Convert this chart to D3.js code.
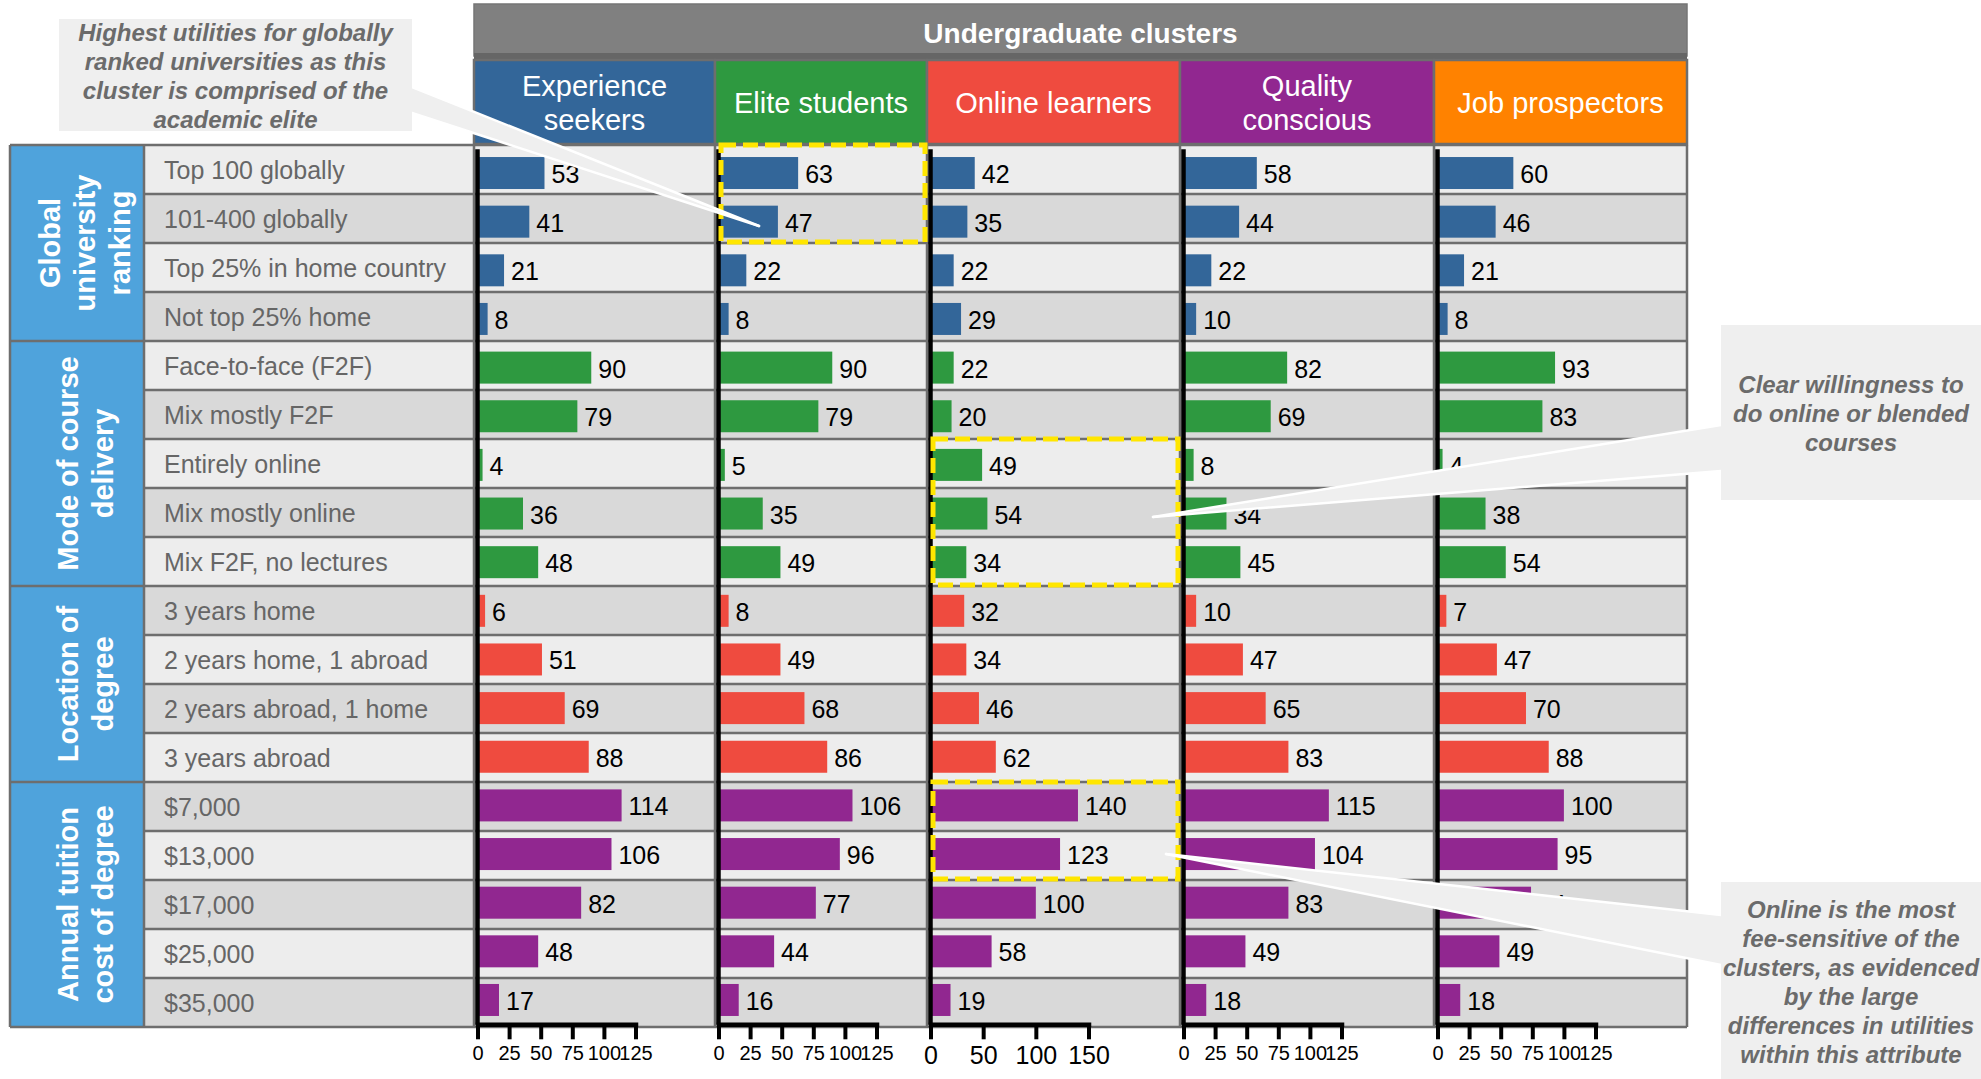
<!DOCTYPE html>
<html>
<head>
<meta charset="utf-8">
<script src="https://cdn.jsdelivr.net/npm/d3@7"></script>
<style>
  html, body { margin: 0; padding: 0; background: #ffffff; }
  svg { display: block; font-family: "Liberation Sans", Arial, sans-serif; }
</style>
</head>
<body>
<svg id="chart" width="1981" height="1079"></svg>
<script>
// ---- Data ---------------------------------------------------------------
const clusters = ["Experience seekers", "Elite students", "Online learners", "Quality conscious", "Job prospectors"];
const clusterHeaderLines = [["Experience", "seekers"], ["Elite students"], ["Online learners"], ["Quality", "conscious"], ["Job prospectors"]];
const clusterColors = ["#336699", "#2e9940", "#ef4b3f", "#912790", "#ff8200"];

const attributes = [
  "Top 100 globally", "101-400 globally", "Top 25% in home country", "Not top 25% home",
  "Face-to-face (F2F)", "Mix mostly F2F", "Entirely online", "Mix mostly online", "Mix F2F, no lectures",
  "3 years home", "2 years home, 1 abroad", "2 years abroad, 1 home", "3 years abroad",
  "$7,000", "$13,000", "$17,000", "$25,000", "$35,000"
];
const groupNames = ["Global university ranking", "Mode of course delivery", "Location of degree", "Annual tuition cost of degree"];
const groupLabelLines = [["Global", "university", "ranking"], ["Mode of course", "delivery"], ["Location of", "degree"], ["Annual tuition", "cost of degree"]];
const groupSizes = [4, 5, 4, 5];
const groupBarColors = ["#336699", "#2e9940", "#ef4b3f", "#912790"];

const experienceSeekers = [53, 41, 21, 8, 90, 79, 4, 36, 48, 6, 51, 69, 88, 114, 106, 82, 48, 17];
const eliteStudents     = [63, 47, 22, 8, 90, 79, 5, 35, 49, 8, 49, 68, 86, 106, 96, 77, 44, 16];
const onlineLearners    = [42, 35, 22, 29, 22, 20, 49, 54, 34, 32, 34, 46, 62, 140, 123, 100, 58, 19];
const qualityConscious  = [58, 44, 22, 10, 82, 69, 8, 34, 45, 10, 47, 65, 83, 115, 104, 83, 49, 18];
const jobProspectors    = [60, 46, 21, 8, 93, 83, 4, 38, 54, 7, 47, 70, 88, 100, 95, 74, 49, 18];
const clusterValues = [experienceSeekers, eliteStudents, onlineLearners, qualityConscious, jobProspectors];

const ticks125 = [0, 25, 50, 75, 100, 125];
const ticks150 = [0, 50, 100, 150];
const clusterTicks = [ticks125, ticks125, ticks150, ticks125, ticks125];

// highlighted cells: cluster index, first and last attribute
const highlights = [
  { cluster: 1, from: "Top 100 globally", to: "101-400 globally" },
  { cluster: 2, from: "Entirely online", to: "Mix F2F, no lectures" },
  { cluster: 2, from: "$7,000", to: "$13,000" }
];

const callouts = [
  { lines: ["Highest utilities for globally", "ranked universities as this", "cluster is comprised of the", "academic elite"],
    box: [59, 19, 353, 112], base: [87, 113], cluster: 1, row: "101-400 globally", tipDx: 44, tipDy: 32 },
  { lines: ["Clear willingness to", "do online or blended", "courses"],
    box: [1721, 325, 260, 175], base: [425, 471], cluster: 2, row: "Mix mostly online", tipDx: 226, tipDy: 29 },
  { lines: ["Online is the most", "fee-sensitive of the", "clusters, as evidenced", "by the large", "differences in utilities", "within this attribute"],
    box: [1721, 882, 260, 197], base: [915, 965], cluster: 2, row: "$13,000", tipDx: 239, tipDy: 23 }
];

// ---- Layout -------------------------------------------------------------
const svg = d3.select("#chart");
const colEdges = [474, 715, 927, 1180, 1434, 1687];
const groupX0 = 10, labelX0 = 144;
const tableTop = 145, tableBottom = 1027;
const plotTop = 148.7, plotBottom = 1024.3;
const axisLen = 158;
const gridColor = "#6e6e6e";

// table rows
const y = d3.scaleBand().domain(attributes).range([tableTop, tableBottom]).padding(0);
const bw = y.bandwidth();
// bar positions inside each cluster's plot area
const yBar = d3.scaleBand().domain(attributes).range([plotTop, plotBottom]).padding(0);
const barH = 32;

const groupOf = [];
groupSizes.forEach((n, g) => { for (let i = 0; i < n; i++) groupOf.push(g); });

const xScales = clusters.map((c, i) => {
  const x0 = colEdges[i] + 3.5;
  return d3.scaleLinear().domain([0, d3.max(clusterTicks[i])]).range([x0, x0 + axisLen]);
});

svg.append("rect").attr("width", 1981).attr("height", 1079).attr("fill", "#ffffff");

// ---- Header -------------------------------------------------------------
svg.append("rect").attr("x", colEdges[0]).attr("y", 4).attr("width", colEdges[5] - colEdges[0]).attr("height", 52)
  .attr("fill", "#808080").attr("stroke", "#767676").attr("stroke-width", 1.5);
svg.append("rect").attr("x", colEdges[0]).attr("y", 53).attr("width", colEdges[5] - colEdges[0]).attr("height", 7)
  .attr("fill", "#666666");
svg.append("text").attr("x", (colEdges[0] + colEdges[5]) / 2).attr("y", 33)
  .attr("text-anchor", "middle").attr("dominant-baseline", "central")
  .attr("fill", "#ffffff").attr("font-weight", "bold").attr("font-size", 28)
  .text("Undergraduate clusters");

const headerG = svg.append("g");
clusters.forEach((c, i) => {
  const x0 = colEdges[i], x1 = colEdges[i + 1];
  headerG.append("rect").attr("x", x0).attr("y", 60).attr("width", x1 - x0).attr("height", 84)
    .attr("fill", clusterColors[i]).attr("stroke", gridColor).attr("stroke-width", 2.5);
  const lines = clusterHeaderLines[i];
  const cy = 103;
  lines.forEach((ln, k) => {
    headerG.append("text").attr("x", (x0 + x1) / 2)
      .attr("y", cy + (k - (lines.length - 1) / 2) * 34)
      .attr("text-anchor", "middle").attr("dominant-baseline", "central")
      .attr("fill", "#ffffff").attr("font-size", 29).text(ln);
  });
});

// ---- Table body ---------------------------------------------------------
const body = svg.append("g");
body.selectAll("rect.row").data(attributes).join("rect")
  .attr("class", "row")
  .attr("x", labelX0).attr("y", d => y(d))
  .attr("width", colEdges[5] - labelX0).attr("height", bw)
  .attr("fill", (d, i) => i % 2 === 0 ? "#ededed" : "#d9d9d9");

// group cells
let start = 0;
groupSizes.forEach((n, g) => {
  const top = y(attributes[start]);
  const bot = y(attributes[start + n - 1]) + bw;
  body.append("rect").attr("x", groupX0).attr("y", top).attr("width", labelX0 - groupX0).attr("height", bot - top)
    .attr("fill", "#4fa3dc");
  const lines = groupLabelLines[g];
  const cy = (top + bot) / 2;
  const t = body.append("text")
    .attr("transform", `translate(85,${cy}) rotate(-90)`)
    .attr("text-anchor", "middle").attr("fill", "#ffffff")
    .attr("font-weight", "bold").attr("font-size", 29);
  lines.forEach((ln, k) => {
    t.append("tspan").attr("x", 0).attr("y", (k - (lines.length - 1) / 2) * 35)
      .attr("dominant-baseline", "central").text(ln);
  });
  start += n;
});

// attribute labels
body.selectAll("text.attr").data(attributes).join("text")
  .attr("class", "attr")
  .attr("x", 164).attr("y", d => y(d) + bw / 2)
  .attr("dominant-baseline", "central")
  .attr("fill", "#666666").attr("font-size", 25)
  .text(d => d);

// grid lines
attributes.concat([null]).forEach((d, i) => {
  const yy = d === null ? tableBottom : y(d);
  const isGroupEdge = i === 0 || i === attributes.length || groupOf[i] !== groupOf[i - 1];
  body.append("line").attr("x1", isGroupEdge ? groupX0 : labelX0).attr("x2", colEdges[5])
    .attr("y1", yy).attr("y2", yy).attr("stroke", gridColor).attr("stroke-width", 2.5);
});
[groupX0, labelX0].concat(colEdges).forEach(xx => {
  body.append("line").attr("x1", xx).attr("x2", xx).attr("y1", tableTop).attr("y2", tableBottom)
    .attr("stroke", gridColor).attr("stroke-width", 2.5);
});

// ---- Bars, values and axes ---------------------------------------------
clusters.forEach((c, ci) => {
  const x = xScales[ci];
  const vals = clusterValues[ci];
  const g = svg.append("g").attr("class", "cluster");
  g.selectAll("rect").data(vals).join("rect")
    .attr("x", x(0)).attr("y", (d, i) => yBar(attributes[i]) + (yBar.bandwidth() - barH) / 2)
    .attr("width", d => x(d) - x(0)).attr("height", barH)
    .attr("fill", (d, i) => groupBarColors[groupOf[i]]);
  g.selectAll("text").data(vals).join("text")
    .attr("x", d => x(d) + 7).attr("y", (d, i) => yBar(attributes[i]) + yBar.bandwidth() / 2 + 1)
    .attr("dominant-baseline", "central").attr("fill", "#000000").attr("font-size", 25)
    .text(d => d);

  // value axis along the bottom
  const isWide = clusterTicks[ci].length === 4;
  const ax = svg.append("g").attr("transform", `translate(0,${plotBottom})`)
    .call(d3.axisBottom(x).tickValues(clusterTicks[ci]).tickSize(15).tickSizeOuter(0));
  ax.select(".domain").attr("stroke", "#000").attr("stroke-width", 4.5).attr("stroke-linecap", "square");
  ax.selectAll(".tick line").attr("stroke", "#000").attr("stroke-width", 4);
  ax.selectAll(".tick text").attr("fill", "#000").attr("font-size", isWide ? 25 : 20)
    .attr("font-family", "'Liberation Sans', Arial, sans-serif")
    .attr("y", isWide ? 39.5 : 35.5).attr("dy", 0);

  // category axis line at zero
  const ay = svg.append("g").attr("transform", `translate(${x(0) - 0.5},0)`)
    .call(d3.axisLeft(yBar).tickSize(0).tickSizeOuter(0).tickFormat(() => ""));
  ay.select(".domain").attr("stroke", "#000").attr("stroke-width", 4.5);
  ay.selectAll(".tick").remove();
});

// ---- Highlight frames ---------------------------------------------------
highlights.forEach(h => {
  const x0 = colEdges[h.cluster] + 6, x1 = colEdges[h.cluster + 1] - 2;
  const y0 = y(h.from), y1 = y(h.to) + bw - 1;
  svg.append("rect").attr("x", x0).attr("y", y0).attr("width", x1 - x0).attr("height", y1 - y0)
    .attr("fill", "none").attr("stroke", "#ffe600").attr("stroke-width", 5)
    .attr("stroke-dasharray", "15,7");
});

// ---- Callouts -----------------------------------------------------------
callouts.forEach(co => {
  const [bx, by, bwid, bh] = co.box;
  const edgeX = bx < colEdges[0] ? bx + bwid : bx;
  const tip = [colEdges[co.cluster] + co.tipDx, y(co.row) + co.tipDy];
  const g = svg.append("g");
  g.append("polygon")
    .attr("points", [[edgeX, co.base[0]], tip, [edgeX, co.base[1]]].map(p => p.join(",")).join(" "))
    .attr("fill", "#efefef");
  co.base.forEach(b => {
    g.append("line").attr("x1", edgeX).attr("y1", b).attr("x2", tip[0]).attr("y2", tip[1])
      .attr("stroke", "#ffffff").attr("stroke-width", 2.5).attr("stroke-linecap", "round");
  });
  g.append("rect").attr("x", bx).attr("y", by).attr("width", bwid).attr("height", bh).attr("fill", "#efefef");
  const cx = bx + bwid / 2;
  const lineH = 29;
  const firstY = by + (bh - (co.lines.length - 1) * lineH) / 2 + 1;
  co.lines.forEach((ln, k) => {
    g.append("text").attr("x", cx).attr("y", firstY + k * lineH)
      .attr("text-anchor", "middle").attr("dominant-baseline", "central")
      .attr("fill", "#6b6b6b").attr("font-weight", "bold").attr("font-style", "italic")
      .attr("font-size", 24).text(ln);
  });
});
</script>
</body>
</html>
